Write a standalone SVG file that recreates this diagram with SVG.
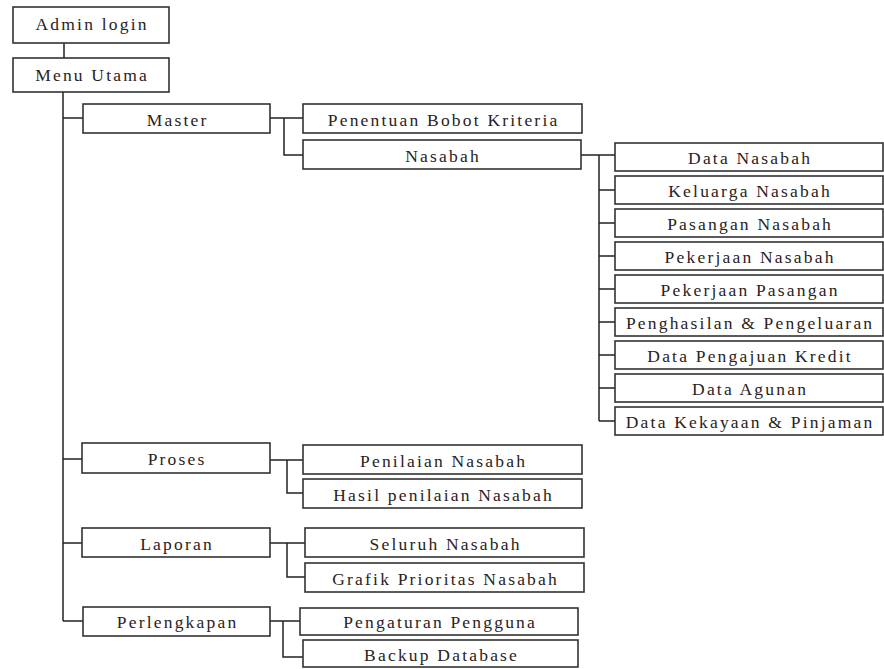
<svg xmlns="http://www.w3.org/2000/svg" width="884" height="669" viewBox="0 0 884 669">
<style>
.b{fill:#fff;stroke:#333;stroke-width:1.6}
.t{font-family:"Liberation Serif","Times New Roman",serif;font-size:17.5px;letter-spacing:2.2px;fill:#2a2222;text-anchor:middle}
.c{fill:none;stroke:#222;stroke-width:1.5}
</style>
<rect width="884" height="669" fill="#fff"/>
<g id="connectors" class="c">
<path d="M64 43V58"/>
<path d="M63 92V621M63 118H83M63 459H82M63 543H82M63 621H83"/>
<path d="M270 118H303M284 118V155H303"/>
<path d="M581 155H615M599 155V421M599 190H615M599 223H615M599 256H615M599 289H615M599 322H615M599 355H615M599 388H615M599 421H615"/>
<path d="M270 460H303M287 460V493H303"/>
<path d="M270 543H305M287 543V577H305"/>
<path d="M270 621H300M283 621V657H303"/>
</g>
<g id="admin"><rect class="b" x="13" y="7" width="156" height="36"/><text class="t" x="92.1" y="29.5">Admin login</text></g>
<g id="menu"><rect class="b" x="13" y="58" width="156" height="34"/><text class="t" x="92.1" y="80.5">Menu Utama</text></g>
<g id="master"><rect class="b" x="83" y="104" width="187" height="29"/><text class="t" x="177.6" y="125.5">Master</text></g>
<g id="bobot"><rect class="b" x="303" y="104" width="279" height="29"/><text class="t" x="443.6" y="125.5">Penentuan Bobot Kriteria</text></g>
<g id="nasabah"><rect class="b" x="303" y="140" width="278" height="29"/><text class="t" x="443.1" y="161.5">Nasabah</text></g>
<g id="data-nasabah"><rect class="b" x="615" y="143" width="268" height="28"/><text class="t" x="750.1" y="163.5">Data Nasabah</text></g>
<g id="keluarga"><rect class="b" x="615" y="176" width="268" height="28"/><text class="t" x="750.1" y="196.5">Keluarga Nasabah</text></g>
<g id="pasangan"><rect class="b" x="615" y="209" width="268" height="28"/><text class="t" x="750.1" y="229.5">Pasangan Nasabah</text></g>
<g id="pekerjaan-nasabah"><rect class="b" x="615" y="242" width="268" height="28"/><text class="t" x="750.1" y="262.5">Pekerjaan Nasabah</text></g>
<g id="pekerjaan-pasangan"><rect class="b" x="615" y="275" width="268" height="28"/><text class="t" x="750.1" y="295.5">Pekerjaan Pasangan</text></g>
<g id="penghasilan"><rect class="b" x="615" y="308" width="268" height="28"/><text class="t" x="750.1" y="328.5">Penghasilan &amp; Pengeluaran</text></g>
<g id="pengajuan"><rect class="b" x="615" y="341" width="268" height="28"/><text class="t" x="750.1" y="361.5">Data Pengajuan Kredit</text></g>
<g id="agunan"><rect class="b" x="615" y="374" width="268" height="28"/><text class="t" x="750.1" y="394.5">Data Agunan</text></g>
<g id="kekayaan"><rect class="b" x="615" y="407" width="268" height="28"/><text class="t" x="750.1" y="427.5">Data Kekayaan &amp; Pinjaman</text></g>
<g id="proses"><rect class="b" x="82" y="443" width="188" height="30"/><text class="t" x="177.1" y="464.5">Proses</text></g>
<g id="penilaian"><rect class="b" x="303" y="445" width="279" height="29"/><text class="t" x="443.6" y="466.5">Penilaian Nasabah</text></g>
<g id="hasil"><rect class="b" x="303" y="479" width="279" height="29"/><text class="t" x="443.6" y="500.5">Hasil penilaian Nasabah</text></g>
<g id="laporan"><rect class="b" x="82" y="528" width="188" height="29"/><text class="t" x="177.1" y="549.5">Laporan</text></g>
<g id="seluruh"><rect class="b" x="305" y="528" width="279" height="29"/><text class="t" x="445.6" y="549.5">Seluruh Nasabah</text></g>
<g id="grafik"><rect class="b" x="305" y="563" width="279" height="29"/><text class="t" x="445.6" y="584.5">Grafik Prioritas Nasabah</text></g>
<g id="perlengkapan"><rect class="b" x="83" y="607" width="187" height="29"/><text class="t" x="177.6" y="627.5">Perlengkapan</text></g>
<g id="pengaturan"><rect class="b" x="300" y="608" width="278" height="27"/><text class="t" x="440.1" y="627.5">Pengaturan Pengguna</text></g>
<g id="backup"><rect class="b" x="303" y="640" width="275" height="27"/><text class="t" x="441.6" y="660.5">Backup Database</text></g>
</svg>
